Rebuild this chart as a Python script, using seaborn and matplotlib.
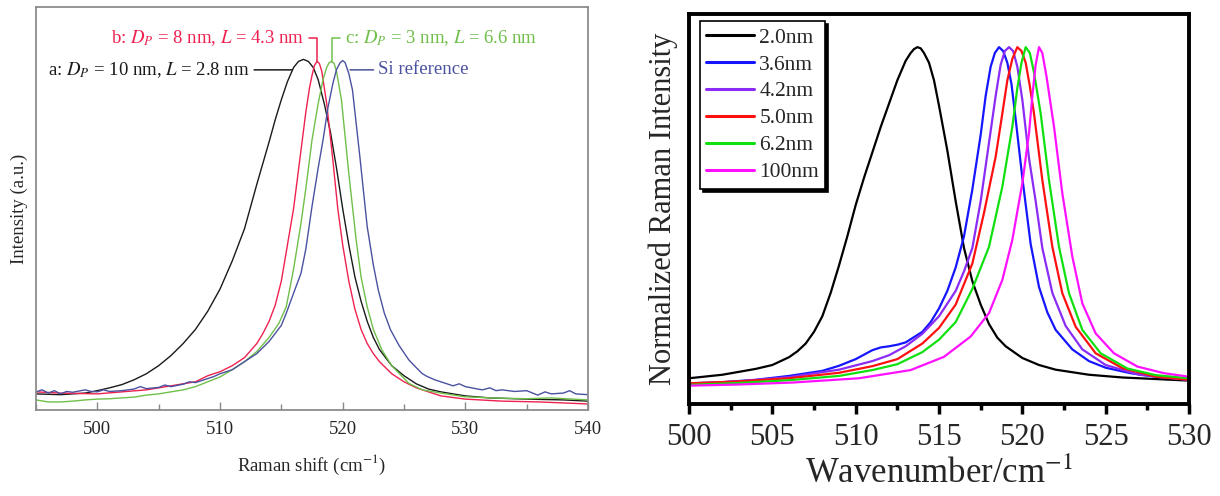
import numpy as np
import pandas as pd
import matplotlib
matplotlib.use('Agg')
import matplotlib.pyplot as plt
from matplotlib.ticker import MultipleLocator, NullLocator
import seaborn as sns

a_x = [495, 497, 499, 500, 501, 502, 503, 504, 505, 506, 507, 508, 509, 510, 511, 512, 513, 514, 514.5, 515,
       515.5, 516, 516.4, 516.8, 517.2, 517.6, 518, 518.5, 519, 519.5, 520, 520.5, 521, 521.5, 522, 522.5, 523,
       524, 525, 526, 527, 528, 530, 532, 535, 538, 540]
a_y = [.040, .038, .042, .048, .055, .063, .075, .09, .11, .135, .165, .20, .245, .30, .37, .45, .56, .665, .72, .77,
       .815, .85, .865, .87, .865, .85, .82, .76, .69, .60, .50, .41, .33, .27, .22, .18, .15,
       .11, .085, .065, .052, .045, .035, .03, .027, .025, .022]

b_x = [495, 497, 500, 502, 504, 506, 508, 509, 510, 511, 512, 513, 513.5, 514, 514.5, 515, 515.5, 516, 516.5,
       517, 517.3, 517.5, 517.7, 517.9, 518.1, 518.3, 518.7, 519.2, 519.6, 520, 520.5, 521, 521.5, 522, 522.5,
       523, 524, 525, 526, 527, 528, 530, 533, 536, 540]
b_y = [.045, .042, .040, .045, .05, .06, .07, .085, .095, .11, .13, .165, .19, .22, .26, .32, .41, .50, .62,
       .74, .80, .83, .855, .865, .86, .84, .76, .62, .50, .41, .32, .25, .20, .165, .14,
       .12, .09, .07, .055, .045, .035, .027, .022, .02, .015]

c_x = [495, 496, 497, 498, 499, 500, 501, 502, 503, 504, 505, 506, 507, 508, 509, 510, 511, 512, 513, 514,
       514.8, 515.4, 516, 516.6, 517, 517.5, 518, 518.4, 518.7, 518.9, 519.1, 519.3, 519.5, 519.9, 520.5, 521.1,
       521.5, 522, 522.5, 523.2, 524, 525.4, 526.5, 528, 529.9, 532, 535, 537, 540]
c_y = [.025, .02, .02, .022, .025, .027, .028, .03, .032, .037, .04, .045, .05, .058, .07, .082, .10, .12, .145, .18,
       .215, .256, .35, .463, .55, .67, .76, .82, .85, .862, .865, .86, .84, .77, .587, .422,
       .33, .256, .20, .149, .11, .066, .05, .042, .033, .03, .028, .03, .025]

si_x = [495, 495.5, 496, 496.5, 497, 497.5, 498, 499, 499.5, 500, 500.5, 501, 502, 503, 503.5, 504, 505, 505.5,
        506, 507, 507.5, 508, 509, 509.5, 510, 510.5, 511, 512, 513, 513.5, 514, 514.5, 515, 515.4, 516, 516.6,
        517, 517.5, 518, 518.4, 518.8, 519.2, 519.5, 519.8, 520, 520.2, 520.5, 520.8, 521.4, 522, 522.5, 522.9,
        523.4, 523.9, 524.6, 525.4, 526, 526.5, 526.9, 527.5, 528, 528.4, 529, 529.5, 530, 531, 531.4, 532,
        532.5, 533, 534, 535, 535.9, 536.5, 537, 538, 538.5, 539, 540]
si_y = [.045, .05, .042, .048, .04, .046, .044, .05, .046, .045, .05, .046, .048, .052, .058, .053, .056, .062,
        .058, .064, .07, .068, .078, .083, .09, .095, .10, .12, .14, .155, .17, .19, .21, .24, .29, .339,
        .40, .505, .60, .67, .75, .81, .845, .862, .867, .862, .835, .794, .629, .455, .36, .298,
        .24, .199, .16, .124, .105, .09, .083, .075, .07, .066, .06, .065, .058, .052, .05, .055,
        .048, .05, .046, .048, .037, .045, .04, .042, .048, .04, .038]

# ---- right panel: calculated spectra for different crystallite sizes ----
sizes = ['2.0nm', '3.6nm', '4.2nm', '5.0nm', '6.2nm', '100nm']
colors = ['#000000', '#1515ff', '#8a2cf5', '#ff1010', '#10e010', '#ff10ff']

n20_x = [500, 502, 504, 505, 505.5, 506, 506.5, 507, 507.5, 508, 508.5, 509, 509.5, 510, 510.5, 511, 511.5, 512,
         512.5, 513, 513.3, 513.5, 513.7, 513.9, 514.1, 514.4, 514.7, 515, 515.5, 516, 516.5, 517, 517.5, 518,
         518.5, 519, 520, 521, 522, 524, 526, 528, 530]
n20_y = [.066, .075, .09, .10, .11, .12, .135, .155, .185, .225, .285, .355, .43, .51, .58, .645, .71, .77,
         .83, .88, .90, .91, .915, .912, .90, .875, .83, .765, .65, .52, .40, .315, .255, .205,
         .17, .148, .118, .10, .088, .075, .068, .064, .06]

n36_x = [500, 502, 504, 506, 508, 509, 510, 511, 511.5, 512, 512.5, 513, 514, 514.5, 515, 515.5, 516, 516.5, 517,
         517.5, 517.8, 518.1, 518.35, 518.6, 518.85, 519.1, 519.35, 519.6, 520, 520.5, 521, 521.5, 522, 523, 524,
         525, 526.5, 528, 530]
n36_y = [.053, .056, .062, .072, .085, .098, .115, .138, .145, .148, .152, .158, .185, .21, .245, .29, .35, .43, .55,
         .69, .79, .865, .90, .915, .905, .875, .82, .73, .58, .41, .30, .235, .19, .14, .11,
         .093, .079, .07, .062]

n42_x = [500, 503, 506, 509, 511, 512, 513, 514, 515, 516, 516.5, 517, 517.5, 518, 518.4, 518.7, 518.95, 519.2,
         519.45, 519.7, 520, 520.4, 520.8, 521.2, 521.8, 522.6, 523.6, 525, 527, 530]
n42_y = [.051, .058, .069, .088, .11, .125, .148, .18, .225, .29, .34, .40, .52, .67, .79, .87, .905, .915,
         .905, .865, .78, .63, .52, .40, .285, .20, .14, .10, .075, .062]

n50_x = [500, 503, 506, 509, 511, 512.5, 514, 515, 516, 517, 517.7, 518.4, 518.8, 519.1, 519.4, 519.7, 519.95,
         520.2, 520.45, 520.7, 521.2, 521.8, 522.4, 523.2, 524.4, 526, 528, 530]
n50_y = [.053, .058, .066, .08, .097, .115, .155, .195, .255, .36, .49, .634, .745, .83, .885, .915, .905,
         .875, .815, .745, .574, .403, .284, .198, .13, .092, .07, .062]

n62_x = [500, 503, 506, 509, 511, 512.5, 514, 515, 516, 517, 518, 518.8, 519.4, 519.7, 519.95, 520.2, 520.45,
         520.7, 521.1, 521.6, 522.2, 522.8, 523.6, 524.7, 526.3, 528, 530]
n62_y = [.049, .054, .061, .072, .087, .102, .133, .165, .21, .295, .403, .557, .711, .81, .875, .915, .90,
         .85, .745, .574, .403, .284, .19, .13, .091, .074, .066]

n100_x = [500, 503, 506.2, 510.2, 513.3, 515.3, 516.9, 518, 518.8, 519.4, 520, 520.4, 520.6, 520.8, 521, 521.2,
          521.45, 521.9, 522.4, 523, 523.6, 524.4, 525.5, 526.9, 528.5, 530]
n100_y = [.047, .05, .055, .066, .087, .121, .173, .233, .318, .421, .566, .694, .79, .87, .915, .90,
          .84, .711, .54, .378, .258, .181, .13, .096, .079, .07]

right_x = [n20_x, n36_x, n42_x, n50_x, n62_x, n100_x]
right_y = [n20_y, n36_y, n42_y, n50_y, n62_y, n100_y]

sns.set_style('white')
plt.rcParams['font.family'] = ['Liberation Serif', 'DejaVu Serif']
plt.rcParams['mathtext.fontset'] = 'stix'

fig = plt.figure(figsize=(12.2, 4.96), dpi=100)
ax1 = fig.add_axes([36 / 1220, 86 / 496, 552 / 1220, 403 / 496])
ax2 = fig.add_axes([689 / 1220, 92 / 496, 500 / 1220, 390 / 496])

# left panel
left = [(a_x, a_y, '#1a1a1a'), (b_x, b_y, '#ef2150'), (c_x, c_y, '#6fbf4a'), (si_x, si_y, '#4a52a0')]
for xs, ys, col in left:
    sns.lineplot(x=xs, y=ys, ax=ax1, color=col, linewidth=1.0, estimator=None)

ax1.set_xlim(495, 540)
ax1.set_ylim(0, 1)
ax1.xaxis.set_major_locator(MultipleLocator(10))
ax1.xaxis.set_minor_locator(MultipleLocator(5))
ax1.yaxis.set_major_locator(NullLocator())
ax1.tick_params(axis='x', which='major', direction='in', length=6, width=1, color='#888888',
                labelsize=13.5, pad=8, bottom=True)
ax1.tick_params(axis='x', which='minor', direction='in', length=4, width=1, color='#888888', bottom=True)
for s in ax1.spines.values():
    s.set_color('#8c8c8c')
    s.set_linewidth(1.3)
ax1.set_xlabel('Raman shift (cm$^{-1}$)', fontsize=13.5, va='center')
ax1.xaxis.set_label_coords(0.5, -0.137)
ax1.set_ylabel('Intensity (a.u.)', fontsize=13.5, labelpad=6)

fs = 13.5
ax1.annotate('a: $D_P$ = 10 nm, $L$ = 2.8 nm', xy=(515.9, 0.844), xytext=(512.4, 0.844),
             ha='right', va='center', fontsize=fs, color='#1a1a1a',
             arrowprops=dict(arrowstyle='-', color='#1a1a1a', lw=1.1, shrinkA=1, shrinkB=0))
ax1.annotate('b: $D_P$ = 8 nm, $L$ = 4.3 nm', xy=(517.9, 0.864), xytext=(516.9, 0.923),
             ha='right', va='center', fontsize=fs, color='#ef2150',
             arrowprops=dict(arrowstyle='-', color='#ef2150', lw=1.1, shrinkA=1, shrinkB=0,
                             connectionstyle='angle,angleA=0,angleB=90,rad=0'))
ax1.annotate('c: $D_P$ = 3 nm, $L$ = 6.6 nm', xy=(519.1, 0.864), xytext=(520.2, 0.923),
             ha='left', va='center', fontsize=fs, color='#6fbf4a',
             arrowprops=dict(arrowstyle='-', color='#6fbf4a', lw=1.1, shrinkA=1, shrinkB=0,
                             connectionstyle='angle,angleA=0,angleB=90,rad=0'))
ax1.annotate('Si reference', xy=(520.6, 0.844), xytext=(522.9, 0.844),
             ha='left', va='center', fontsize=fs, color='#4a52a0',
             arrowprops=dict(arrowstyle='-', color='#4a52a0', lw=1.1, shrinkA=1, shrinkB=0))

# right panel
for xs, ys, col, lab in zip(right_x, right_y, colors, sizes):
    sns.lineplot(x=xs, y=ys, ax=ax2, color=col, linewidth=1.6, estimator=None, label=lab)

ax2.set_xlim(500, 530)
ax2.set_ylim(0, 1)
ax2.xaxis.set_major_locator(MultipleLocator(5))
ax2.xaxis.set_minor_locator(MultipleLocator(2.5))
ax2.yaxis.set_major_locator(NullLocator())
ax2.tick_params(axis='x', which='major', direction='out', length=7, width=2.5, color='black',
                labelsize=22, pad=7, bottom=True)
ax2.tick_params(axis='x', which='minor', direction='out', length=4, width=2.5, color='black', bottom=True)
for s in ax2.spines.values():
    s.set_color('black')
    s.set_linewidth(2.8)
ax2.set_xlabel('Wavenumber/cm$^{-1}$', fontsize=25, va='center')
ax2.xaxis.set_label_coords(0.5, -0.18)
ax2.set_ylabel('Normalized Raman Intensity', fontsize=22, labelpad=8)

leg = ax2.legend(loc='upper left', bbox_to_anchor=(0.022, 0.982), borderaxespad=0, fontsize=15.5,
                 handlelength=2.2, handletextpad=0.25, labelspacing=0.32, borderpad=0.3,
                 frameon=True, fancybox=False, shadow={'color': 'black', 'alpha': 1})
leg.get_frame().set_edgecolor('black')
leg.get_frame().set_linewidth(1.2)
for h in leg.get_lines():
    h.set_linewidth(2.2)

fig.savefig('out.png', dpi=100)
